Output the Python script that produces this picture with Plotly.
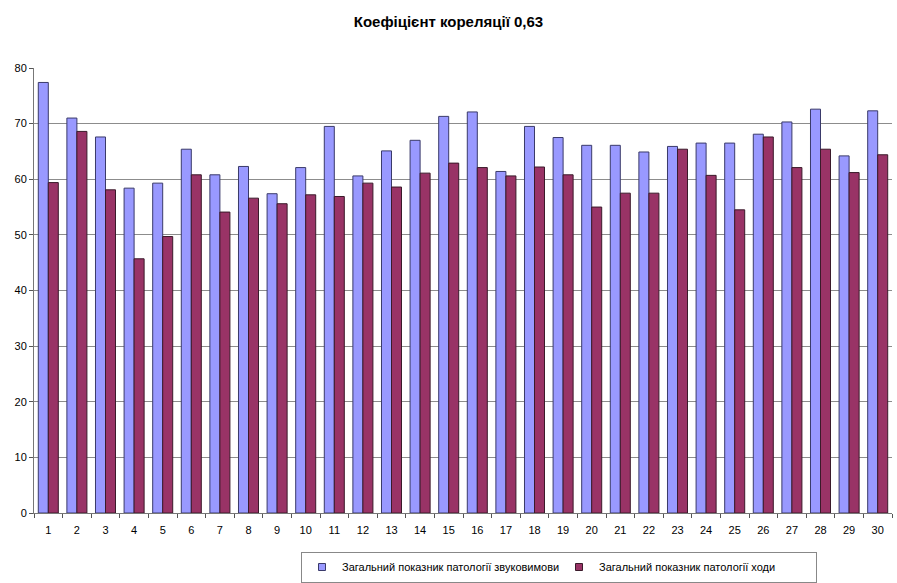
import plotly.graph_objects as go

categories = [str(i) for i in range(1, 31)]

speech_pathology = [77.4, 71.0, 67.6, 58.4, 59.3, 65.4, 60.8, 62.3, 57.4, 62.1,
                    69.5, 60.6, 65.1, 67.0, 71.3, 72.1, 61.4, 69.5, 67.5, 66.1,
                    66.1, 64.9, 65.9, 66.5, 66.5, 68.1, 70.3, 72.6, 64.2, 72.3]

gait_pathology = [59.4, 68.6, 58.1, 45.7, 49.7, 60.8, 54.1, 56.6, 55.6, 57.2,
                  56.9, 59.3, 58.6, 61.1, 62.9, 62.1, 60.6, 62.2, 60.8, 55.0,
                  57.5, 57.5, 65.4, 60.7, 54.5, 67.6, 62.1, 65.4, 61.2, 64.4]

series_names = ["Загальний показник патології звуковимови",
                "Загальний показник патології ходи"]

y_ticks = list(range(0, 90, 10))

font_family = "Liberation Sans, Arial, sans-serif"
fills = ["#9999FF", "#993366"]
outlines = ["#3a3a6a", "#3a1a2a"]

fig = go.Figure()
for values, name, fill, edge in zip([speech_pathology, gait_pathology],
                                    series_names, fills, outlines):
    fig.add_trace(go.Bar(
        x=categories, y=values, name=name, showlegend=False,
        marker=dict(color=fill, line=dict(color=edge, width=1)),
    ))

# small square keys for the legend
for name, fill, edge in zip(series_names, fills, outlines):
    fig.add_trace(go.Scatter(
        x=[None], y=[None], mode="markers", name=name,
        marker=dict(symbol="square", size=7, color=fill,
                    line=dict(color=edge, width=1)),
    ))

fig.update_layout(
    width=897, height=583,
    margin=dict(l=34, r=5, t=68, b=70),
    paper_bgcolor="white", plot_bgcolor="white",
    barmode="group", bargap=0.3, bargroupgap=0.0,
    title=dict(text="<b>Коефіцієнт кореляції 0,63</b>",
               x=0.5, xref="container", xanchor="center",
               y=1 - 22 / 583, yref="container", yanchor="middle",
               font=dict(family=font_family, size=15, color="black")),
    font=dict(family=font_family, size=11, color="black"),
    showlegend=True,
    legend=dict(
        orientation="h",
        xref="container", yref="container",
        x=559 / 897, xanchor="center",
        y=1 - 567 / 583, yanchor="middle",
        bordercolor="#888888", borderwidth=1,
        font=dict(family=font_family, size=11, color="black"),
        entrywidth=212, itemwidth=30,
        traceorder="normal",
    ),
)

fig.update_xaxes(
    type="category",
    tickmode="array", tickvals=categories, ticktext=categories,
    ticks="outside", tickson="boundaries", ticklen=4, tickcolor="#555555",
    ticklabelstandoff=7,
    showline=True, linecolor="#777777", linewidth=1,
    showgrid=False,
    tickfont=dict(size=11),
)
fig.update_yaxes(
    range=[0, 80], tickvals=y_ticks,
    ticks="outside", ticklen=4, tickcolor="#555555",
    showline=True, linecolor="#777777", linewidth=1,
    showgrid=True, gridcolor="#8c8c8c", gridwidth=1,
    zeroline=False,
    tickfont=dict(size=11),
)

fig.write_html("out.html")
